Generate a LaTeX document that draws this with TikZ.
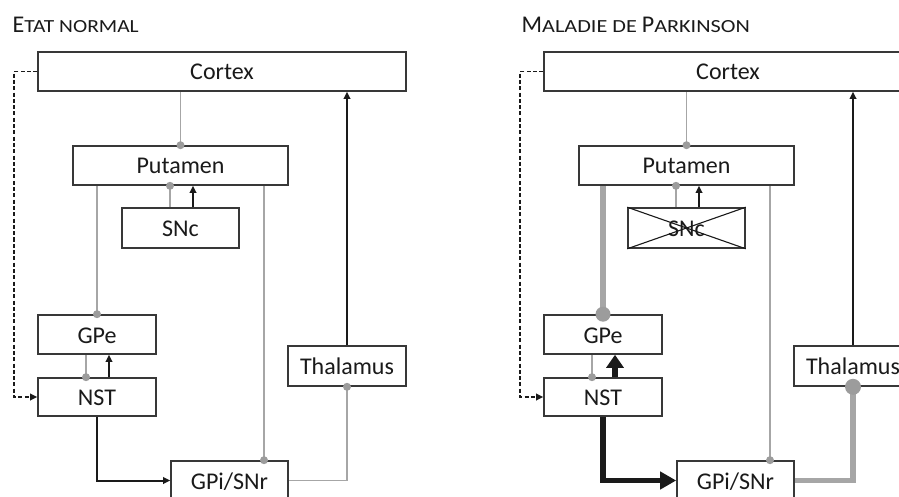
\documentclass[tikz,border=0pt]{standalone}
\usepackage{fontspec}
\usepackage{graphicx}
\setmainfont{Carlito}
\usetikzlibrary{arrows.meta}
\definecolor{boxline}{HTML}{383838}
\definecolor{txt}{HTML}{1A1A1A}
\definecolor{gl}{HTML}{A6A6A6}
\definecolor{gd}{HTML}{9C9C9C}
\definecolor{bl}{HTML}{1A1A1A}
\newcommand\bigc[1]{{\fontsize{24pt}{28pt}\selectfont #1}}
\newcommand\smc[2]{\scalebox{#1}[1]{\fontsize{18.5pt}{20pt}\selectfont #2}}
\begin{document}
\begin{tikzpicture}[x=1pt,y=-1pt,
  box/.style={draw=boxline, line width=1.6pt, fill=white, inner sep=0pt, text=txt,
    text height=17pt, text depth=0pt, font=\fontsize{24pt}{28pt}\selectfont},
  gline/.style={draw=gl, line width=1.8pt},
  gthick/.style={draw=gl, line width=5.5pt},
  bline/.style={draw=bl, line width=2pt, -{Triangle[length=7pt,width=6.5pt]}},
  bthick/.style={draw=bl, line width=5.5pt, -{Triangle[length=16pt,width=17pt]}},
  bthickb/.style={draw=bl, line width=5.5pt, -{Triangle[length=13pt,width=17pt]}},
  dline/.style={draw=bl, line width=1.8pt, dash pattern=on 4pt off 2.3pt, -{Triangle[length=7pt,width=6.5pt]}},
  sdot/.style={fill=gd},
  title/.style={anchor=base west, text=txt, inner sep=0pt}
]
\useasboundingbox (0,0) rectangle (899,497);
\clip (0,0) rectangle (899,497);

% titles
\node[title] (t1) at (12.5,33) {\bigc{E}\smc{1.16}{TAT NORMAL}};
\node[title] (t2) at (521.5,33) {\bigc{M}\smc{1.2}{ALADIE DE }\bigc{P}\smc{1.2}{ARKINSON}};

% ---------- left panel ----------
\node[box, minimum width=368pt, minimum height=39pt] (cx) at (222,71.5) {Cortex};
\node[box, minimum width=215pt, minimum height=39pt] (pu) at (180.5,165.5) {Putamen};
\node[box, minimum width=117pt, minimum height=40pt] (sn) at (180.5,228) {SNc};
\node[box, minimum width=118pt, minimum height=39pt] (ge) at (97,334.5) {GPe};
\node[box, minimum width=118pt, minimum height=38pt] (ns) at (97,397) {NST};
\node[box, minimum width=118pt, minimum height=40pt] (th) at (347,366) {Thalamus};
\node[box, minimum width=117pt, minimum height=39pt] (gi) at (229.5,480.5) {GPi/SNr};

\draw[gline] (pu.north) -- (pu.north |- cx.south);
\draw[gline] ([xshift=-10.5pt]sn.north) -- ([xshift=-10.5pt]sn.north |- pu.south);
\draw[bline] ([xshift=12.5pt]sn.north) -- ([xshift=12.5pt]sn.north |- pu.south);
\draw[gline] (ge.north) -- (ge.north |- pu.south);
\draw[gline] ([xshift=34.5pt]gi.north) -- ([xshift=34.5pt]gi.north |- pu.south);
\draw[gline] ([xshift=-11pt]ge.south) -- ([xshift=-11pt]ge.south |- ns.north);
\draw[bline] ([xshift=12pt]ns.north) -- ([xshift=12pt]ns.north |- ge.south);
\draw[bline] (ns.south) |- (gi.west);
\draw[gline] (gi.east) -| (th.south);
\draw[bline] (th.north) -- (th.north |- cx.south);
\draw[dline] (cx.west) -- ++(-23,0) |- (ns.west);

\fill[sdot] (pu.north) circle (4pt);
\fill[sdot] ([xshift=-10.5pt]sn.north |- pu.south) circle (4pt);
\fill[sdot] (ge.north) circle (4pt);
\fill[sdot] ([xshift=34.5pt]gi.north) circle (4pt);
\fill[sdot] ([xshift=-11pt]ge.south |- ns.north) circle (4pt);
\fill[sdot] (th.south) circle (4pt);

% ---------- right panel ----------
\node[box, minimum width=368pt, minimum height=39pt] (cx2) at (728,71.5) {Cortex};
\node[box, minimum width=215pt, minimum height=39pt] (pu2) at (686.5,165.5) {Putamen};
\node[box, minimum width=117pt, minimum height=40pt] (sn2) at (686.5,228) {SNc};
\node[box, minimum width=118pt, minimum height=39pt] (ge2) at (603,334.5) {GPe};
\node[box, minimum width=118pt, minimum height=38pt] (ns2) at (603,397) {NST};
\node[box, minimum width=118pt, minimum height=40pt] (th2) at (853,366) {Thalamus};
\node[box, minimum width=117pt, minimum height=39pt] (gi2) at (735.5,480.5) {GPi/SNr};
\draw[draw=bl, line width=1.1pt] (sn2.north west) -- (sn2.south east) (sn2.north east) -- (sn2.south west);

\draw[gline] (pu2.north) -- (pu2.north |- cx2.south);
\draw[gline] ([xshift=-10.5pt]sn2.north) -- ([xshift=-10.5pt]sn2.north |- pu2.south);
\draw[bline] ([xshift=12.5pt]sn2.north) -- ([xshift=12.5pt]sn2.north |- pu2.south);
\draw[gthick] (ge2.north) -- (ge2.north |- pu2.south);
\draw[gline] ([xshift=34.5pt]gi2.north) -- ([xshift=34.5pt]gi2.north |- pu2.south);
\draw[gline] ([xshift=-11pt]ge2.south) -- ([xshift=-11pt]ge2.south |- ns2.north);
\draw[bthickb] ([xshift=12pt]ns2.north) -- ([xshift=12pt]ns2.north |- ge2.south);
\draw[bthick] (ns2.south) |- (gi2.west);
\draw[gthick] (gi2.east) -| (th2.south);
\draw[bline] (th2.north) -- (th2.north |- cx2.south);
\draw[dline] (cx2.west) -- ++(-23,0) |- (ns2.west);

\fill[sdot] (pu2.north) circle (4pt);
\fill[sdot] ([xshift=-10.5pt]sn2.north |- pu2.south) circle (4pt);
\fill[sdot] (ge2.north) circle (7.5pt);
\fill[sdot] ([xshift=34.5pt]gi2.north) circle (4pt);
\fill[sdot] ([xshift=-11pt]ge2.south |- ns2.north) circle (4pt);
\fill[sdot] (th2.south) circle (8pt);
\end{tikzpicture}
\end{document}
